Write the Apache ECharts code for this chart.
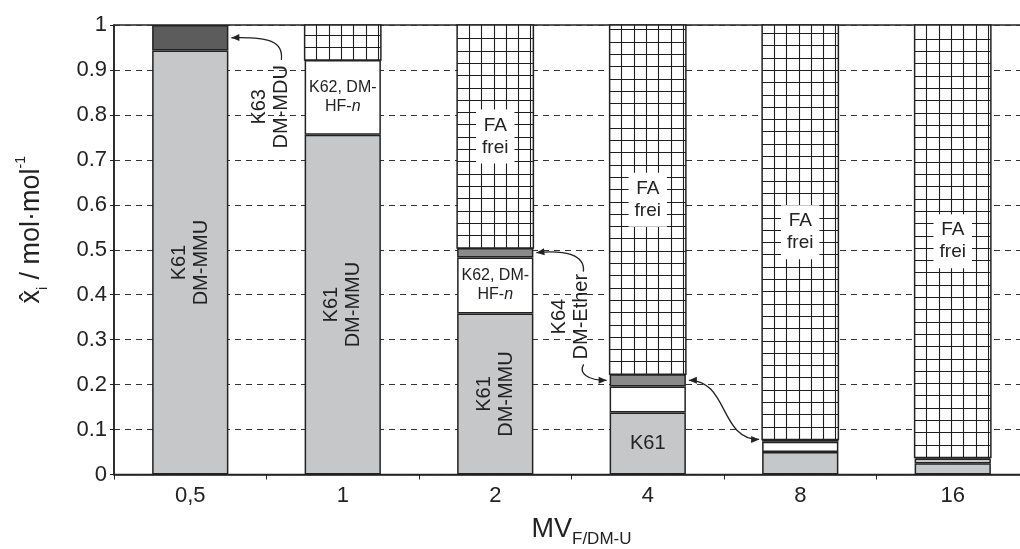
<!DOCTYPE html>
<html>
<head>
<meta charset="utf-8">
<script src="https://cdn.jsdelivr.net/npm/echarts@6/dist/echarts.min.js"></script>
<style>
  html, body { margin: 0; padding: 0; background: #fff; }
  #chart { width: 1020px; height: 549px; }
</style>
</head>
<body>
<div id="chart"></div>
<script>
// Molar fractions per MV ratio, stacked bottom to top
const categories = ['0,5', '1', '2', '4', '8', '16'];
const k61 = [0.943, 0.756, 0.358, 0.138, 0.050, 0.025];   // K61 DM-MMU
const k62 = ['-', 0.166, 0.125, 0.058, 0.023, 0.010];      // K62 DM-HF-n
const k64 = ['-', '-', 0.021, 0.027, 0.005, 0.003];        // K64 DM-Ether
const k63 = [0.057, '-', '-', '-', '-', '-'];              // K63 DM-MDU
const faFrei = ['-', 0.078, 0.496, 0.777, 0.922, 0.962];   // free FA

const k61Labels = ['K61\nDM-MMU', 'K61\nDM-MMU', 'K61\nDM-MMU', 'K61', '', ''];
const k62Labels = ['', 'K62, DM-\nHF-{it|n}', 'K62, DM-\nHF-{it|n}', '', '', ''];
const faLabels = ['', '', 'FA\nfrei', 'FA\nfrei', 'FA\nfrei', 'FA\nfrei'];
const yTickLabels = ['0', '0.1', '0.2', '0.3', '0.4', '0.5', '0.6', '0.7', '0.8', '0.9', '1'];

const FONT = '"Liberation Sans", Arial, sans-serif';
const INK = '#222';
const BAR_RATIO = 0.5;
const CELL = 12.3;

const num = v => (typeof v === 'number' ? v : 0);
const baseOf = i => num(k61[i]) + num(k62[i]) + num(k64[i]) + num(k63[i]);

const faData = [];
faFrei.forEach((v, i) => {
  if (typeof v === 'number') faData.push([i, baseOf(i), baseOf(i) + v]);
});

function labelled(values, texts, extra) {
  return values.map((v, i) => {
    const t = texts[i];
    if (!t) return { value: v, label: { show: false } };
    return { value: v, label: Object.assign({ show: true, formatter: t }, extra(t)) };
  });
}

const segBorder = { borderColor: INK, borderWidth: 1.5 };

function crisp(v) { return Math.round(v - 0.5) + 0.5; }

// free FA segment: white cell drawn with a square grid hatch
function renderFa(params, api) {
  const i = api.value(0);
  const lo = api.coord([i, api.value(1)]);
  const hi = api.coord([i, api.value(2)]);
  const w = api.size([1, 0])[0] * BAR_RATIO;
  const x0 = lo[0] - w / 2, x1 = lo[0] + w / 2;
  const yb = lo[1], yt = hi[1];
  const kids = [{ type: 'rect', shape: { x: x0, y: yt, width: w, height: yb - yt }, style: { fill: '#fff' } }];
  const ls = { stroke: '#1e1e1e', lineWidth: 1.1 };
  for (let x = x0 + CELL; x < x1 - 2; x += CELL) {
    kids.push({ type: 'line', shape: { x1: crisp(x), y1: yt, x2: crisp(x), y2: yb }, style: ls });
  }
  for (let y = yb - CELL; y > yt + 2; y -= CELL) {
    kids.push({ type: 'line', shape: { x1: x0, y1: crisp(y), x2: x1, y2: crisp(y) }, style: ls });
  }
  kids.push({ type: 'rect', shape: { x: x0, y: yt, width: w, height: yb - yt },
              style: { fill: null, stroke: INK, lineWidth: 1.5 } });
  const t = faLabels[i];
  if (t) {
    kids.push({
      type: 'text', x: lo[0], y: (yb + yt) / 2,
      style: { text: t, fontSize: 19, fontFamily: FONT, fill: INK, align: 'center', verticalAlign: 'middle',
               lineHeight: 22, backgroundColor: '#fff', padding: [5, 6] }
    });
  }
  return { type: 'group', children: kids };
}

const chart = echarts.init(document.getElementById('chart'), null, { renderer: 'canvas' });

const option = {
  animation: false,
  backgroundColor: '#fff',
  grid: {
    left: 114, top: 25, right: -9, bottom: 74.5,
    outerBoundsMode: 'none', containLabel: false,
    show: true, borderColor: INK, borderWidth: 1.5, backgroundColor: 'transparent'
  },
  xAxis: {
    type: 'category',
    data: categories,
    axisLine: { lineStyle: { color: INK, width: 1.5 } },
    axisTick: { show: true, length: 5, lineStyle: { color: INK, width: 1 } },
    axisLabel: { fontSize: 22, fontFamily: FONT, color: INK, margin: 10 },
    name: 'MV{sub|F/DM-U}',
    nameLocation: 'middle',
    nameGap: 25,
    nameTextStyle: {
      fontSize: 27, fontFamily: FONT, color: INK, lineHeight: 36, padding: [0, 0, 0, 20],
      rich: { sub: { fontSize: 17, fontFamily: FONT, color: INK, verticalAlign: 'bottom', lineHeight: 36 } }
    }
  },
  yAxis: {
    type: 'value',
    min: 0, max: 1, interval: 0.1,
    axisLine: { show: true, lineStyle: { color: INK, width: 1.5 } },
    axisTick: { show: true, length: 4, lineStyle: { color: INK, width: 1 } },
    axisLabel: {
      fontSize: 22, fontFamily: FONT, color: INK, margin: 7,
      formatter: v => yTickLabels[Math.round(v * 10)]
    },
    splitLine: { show: true, lineStyle: { color: '#333', width: 1, type: [6, 5] } },
    name: 'x\u0302{sub|i} / mol·mol{sup|-1}',
    nameLocation: 'middle',
    nameGap: 64,
    nameTextStyle: {
      fontSize: 27, fontFamily: FONT, color: INK, lineHeight: 36, padding: [0, 0, 0, 40],
      rich: {
        sub: { fontSize: 14, fontFamily: FONT, color: INK, verticalAlign: 'bottom', lineHeight: 36 },
        sup: { fontSize: 14, fontFamily: FONT, color: INK, verticalAlign: 'top', lineHeight: 36 }
      }
    }
  },
  series: [
    {
      name: 'K61 DM-MMU', type: 'bar', stack: 'x', barWidth: '50%',
      itemStyle: Object.assign({ color: '#c6c7c9' }, segBorder),
      label: { position: 'inside', fontSize: 20, fontFamily: FONT, color: INK, lineHeight: 22, align: 'center', verticalAlign: 'middle' },
      data: labelled(k61, k61Labels, t => ({ rotate: t.indexOf('\n') >= 0 ? 90 : 0 }))
    },
    {
      name: 'K62 DM-HF-n', type: 'bar', stack: 'x', barWidth: '50%',
      itemStyle: Object.assign({ color: '#ffffff' }, segBorder),
      label: {
        position: 'inside', fontSize: 16, fontFamily: FONT, color: INK, lineHeight: 19,
        rich: { it: { fontSize: 16, fontFamily: FONT, color: INK, fontStyle: 'italic', lineHeight: 19 } }
      },
      data: labelled(k62, k62Labels, () => ({}))
    },
    {
      name: 'K64 DM-Ether', type: 'bar', stack: 'x', barWidth: '50%',
      itemStyle: Object.assign({ color: '#8a8a8a' }, segBorder),
      data: k64
    },
    {
      name: 'K63 DM-MDU', type: 'bar', stack: 'x', barWidth: '50%',
      itemStyle: Object.assign({ color: '#5c5c5c' }, segBorder),
      data: k63
    },
    {
      name: 'FA frei', type: 'custom', z: 5,
      renderItem: renderFa,
      encode: { x: 0, y: [1, 2] },
      data: faData
    }
  ]
};

chart.setOption(option);

// Callout texts and curved arrows, anchored on the bar edges
const px = (c, v) => chart.convertToPixel({ gridIndex: 0 }, [c, v]);
const band = px(1, 0)[0] - px(0, 0)[0];
const half = band * BAR_RATIO / 2;
const rightEdge = c => px(c, 0)[0] + half;
const leftEdge = c => px(c, 0)[0] - half;
const yAt = v => px(0, v)[1];

function arrowHead(tip, from) {
  const dx = tip[0] - from[0], dy = tip[1] - from[1];
  const len = Math.hypot(dx, dy) || 1;
  const ux = dx / len, uy = dy / len;
  const L = 8, W = 3.5;
  const bx = tip[0] - ux * L, by = tip[1] - uy * L;
  return {
    type: 'polygon', z: 20,
    shape: { points: [tip, [bx - uy * W, by + ux * W], [bx + uy * W, by - ux * W]] },
    style: { fill: INK }
  };
}
function curve(p1, c1, c2, p2) {
  return {
    type: 'bezierCurve', z: 20,
    shape: { x1: p1[0], y1: p1[1], cpx1: c1[0], cpy1: c1[1], cpx2: c2[0], cpy2: c2[1], x2: p2[0], y2: p2[1] },
    style: { stroke: INK, lineWidth: 1.3, fill: null }
  };
}
function vtext(x, y, text) {
  return {
    type: 'text', x: x, y: y, rotation: Math.PI / 2, z: 20,
    style: { text: text, fontSize: 20, fontFamily: FONT, fill: INK, align: 'center', verticalAlign: 'middle', lineHeight: 22 }
  };
}
const add = (p, dx, dy) => [p[0] + dx, p[1] + dy];

const graphics = [];

// K63 DM-MDU callout pointing to the top of the first bar
const t63 = [rightEdge(0) + 3, yAt(num(k61[0]) + num(k63[0]) / 2)];
const s63 = add(t63, 50, 22);
const c63b = add(t63, 39, -1);
graphics.push(curve(s63, add(t63, 52, 4), c63b, t63), arrowHead(t63, c63b));
graphics.push(vtext(t63[0] + 39, t63[1] + 69, 'K63\nDM-MDU'));

// K64 DM-Ether callout between bars 2 and 4
const t64a = [rightEdge(2) + 3, yAt(num(k61[2]) + num(k62[2]) + num(k64[2]) / 2)];
const s64a = add(t64a, 47, 19);
const c64a = add(t64a, 28, -3);
graphics.push(curve(s64a, add(t64a, 49, 2), c64a, t64a), arrowHead(t64a, c64a));
graphics.push(vtext(t64a[0] + 34, t64a[1] + 64, 'K64\nDM-Ether'));

const yK64bar4 = yAt(num(k61[3]) + num(k62[3]) + num(k64[3]) / 2);
const t64b = [leftEdge(3) - 3, yK64bar4];
const s64b = add(t64b, -23, -16);
const c64b = add(t64b, -19, 0);
graphics.push(curve(s64b, add(t64b, -28, -7), c64b, t64b), arrowHead(t64b, c64b));

// double arrow linking the K64 band of bar 4 with bar 8
const dA = [rightEdge(3) + 3, yK64bar4];
const dB = [leftEdge(4) - 3, yAt(baseOf(4))];
const cA = add(dA, 40, 0), cB = add(dB, -40, 0);
graphics.push(curve(dA, cA, cB, dB), arrowHead(dA, cA), arrowHead(dB, cB));

chart.setOption({ graphic: graphics });
</script>
</body>
</html>
